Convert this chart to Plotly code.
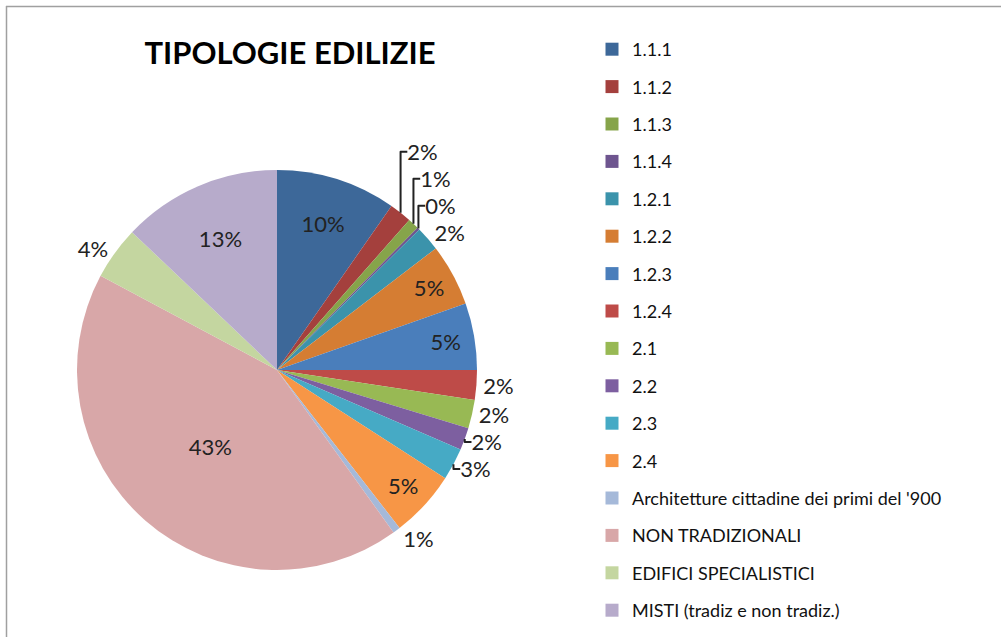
import plotly.graph_objects as go

title_text = "TIPOLOGIE EDILIZIE"
categories = ["1.1.1", "1.1.2", "1.1.3", "1.1.4", "1.2.1", "1.2.2", "1.2.3", "1.2.4",
              "2.1", "2.2", "2.3", "2.4",
              "Architetture cittadine dei primi del '900", "NON TRADIZIONALI",
              "EDIFICI SPECIALISTICI", "MISTI (tradiz e non tradiz.)"]
values = [9.7, 1.8, 0.9, 0.2, 2.0, 5.0, 5.4, 2.4, 2.3, 1.8, 2.6, 5.4, 0.6, 42.7, 4.3, 12.9]
pct_labels = ["10%", "2%", "1%", "0%", "2%", "5%", "5%", "2%", "2%", "2%", "3%", "5%",
              "1%", "43%", "4%", "13%"]
colors = ["#3D6899", "#A4403D", "#86A44A", "#6E558F", "#3B93AB", "#D57D33", "#4A7EBB", "#BE4B48",
          "#98B954", "#7D5FA0", "#46AAC5", "#F79646", "#A5B9D9", "#D8A7A8", "#C4D6A0", "#B7ABCB"]
inside = [True, False, False, False, False, True, True, False,
          False, False, False, True, False, True, False, True]

W, H = 1001, 637
cx, cy, R = 277, 370, 200
FONT = "Lato, Carlito, sans-serif"

fig = go.Figure()
fig.add_trace(go.Pie(
    labels=categories, values=values, text=pct_labels, textinfo="text",
    sort=False, direction="clockwise", rotation=0,
    marker=dict(colors=colors, line=dict(width=0)),
    textposition=["inside" if i else "outside" for i in inside],
    insidetextorientation="horizontal",
    textfont=dict(family=FONT, size=22, color="#222222"),
    outsidetextfont=dict(family=FONT, size=22, color="#222222"),
    showlegend=False,
    domain=dict(x=[(cx - R) / W, (cx + R) / W], y=[1 - (cy + R) / H, 1 - (cy - R) / H]),
    hoverinfo="label+percent",
))

for name, col in zip(categories, colors):
    fig.add_trace(go.Scatter(
        x=[None], y=[None], mode="markers", name=name, legendgroup=name,
        marker=dict(symbol="square", size=13, color=col),
    ))

fig.update_layout(
    width=W, height=H,
    margin=dict(l=0, r=0, t=0, b=0),
    paper_bgcolor="white", plot_bgcolor="white",
    xaxis=dict(visible=False), yaxis=dict(visible=False),
    title=dict(text="<b>" + title_text + "</b>", x=290 / W, xanchor="center",
               y=1 - 53 / H, yanchor="middle",
               font=dict(family=FONT, size=31, color="#000000")),
    legend=dict(x=592 / W, xanchor="left", y=1 - 31 / H, yanchor="top",
                font=dict(family=FONT, size=18, color="#111111"),
                tracegroupgap=11, itemwidth=30, bgcolor="rgba(0,0,0,0)"),
    shapes=[
        dict(type="line", xref="paper", yref="paper", x0=6 / W, x1=1, y0=1 - 6.5 / H, y1=1 - 6.5 / H,
             line=dict(color="#A0A0A0", width=1.5)),
        dict(type="line", xref="paper", yref="paper", x0=6.5 / W, x1=6.5 / W, y0=0, y1=1 - 6 / H,
             line=dict(color="#A0A0A0", width=1.5)),
    ],
)

fig.write_html("out.html", config={"displayModeBar": False},
               post_script="document.body.style.margin='0';document.body.style.overflow='hidden';")
